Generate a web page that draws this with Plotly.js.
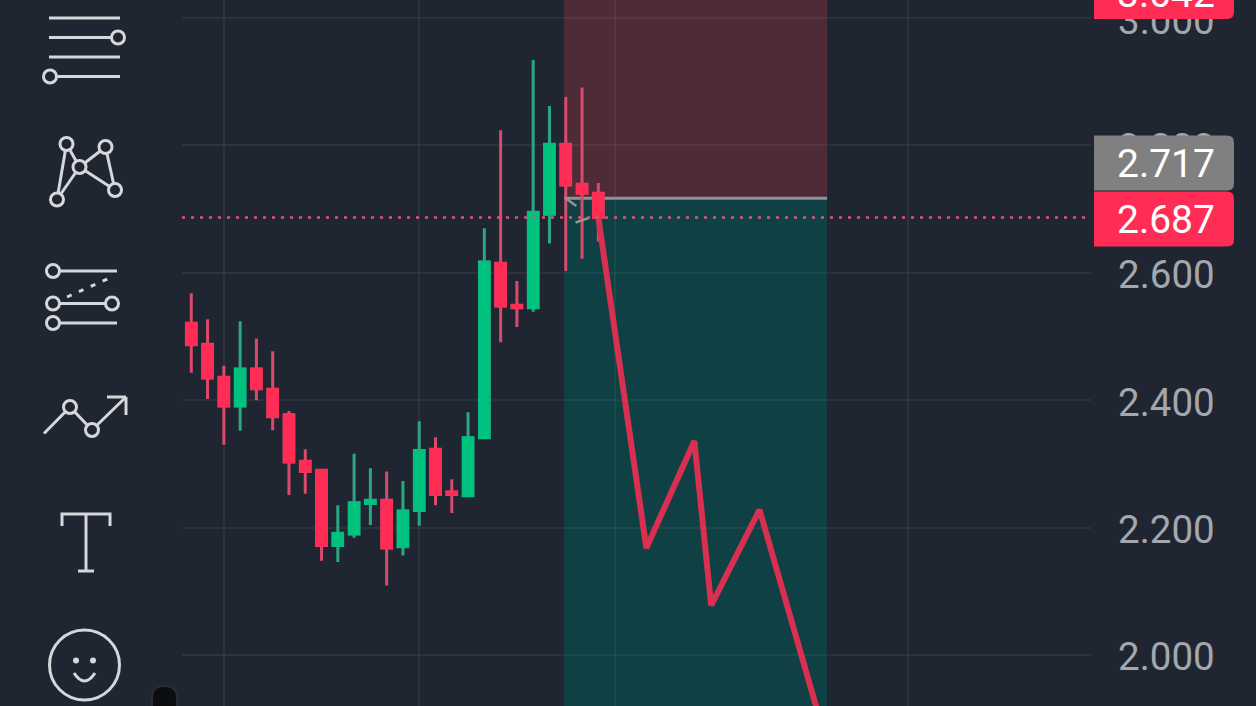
<!DOCTYPE html>
<html>
<head>
<meta charset="utf-8">
<script src="https://cdn.plot.ly/plotly-3.0.1.min.js"></script>
<style>html,body{margin:0;padding:0;background:#1f2632;overflow:hidden}</style>
</head>
<body>
<div id="chart" style="width:1256px;height:706px"></div>
<script>
// ---- chart data ----
const candleIndex = [0,1,2,3,4,5,6,7,8,9,10,11,12,13,14,15,16,17,18,19,20,21,22,23,24,25];
const opens  = [2.521,2.488,2.436,2.391,2.449,2.417,2.377,2.304,2.290,2.172,2.190,2.238,2.243,2.170,2.227,2.323,2.256,2.250,2.341,2.615,2.549,2.545,2.692,2.802,2.739,2.725];
const highs  = [2.568,2.527,2.454,2.524,2.497,2.477,2.383,2.323,2.292,2.235,2.316,2.293,2.288,2.273,2.367,2.342,2.276,2.381,2.670,2.824,2.587,2.934,2.862,2.876,2.891,2.741];
const lows   = [2.443,2.402,2.330,2.352,2.400,2.353,2.251,2.253,2.148,2.146,2.184,2.204,2.109,2.156,2.203,2.235,2.223,2.250,2.341,2.491,2.515,2.539,2.646,2.603,2.622,2.649];
const closes = [2.487,2.435,2.391,2.449,2.418,2.374,2.303,2.288,2.172,2.191,2.239,2.243,2.168,2.226,2.321,2.252,2.252,2.341,2.617,2.548,2.545,2.695,2.802,2.738,2.725,2.687];
const forecastIndex = [25,27.95,30.9,31.93,34.9,39];
const forecastValue = [2.687,2.168,2.336,2.078,2.228,1.864];
const entryArrowIndex = [22.95,23.65,null,23.6,24.4];
const entryArrowValue = [2.718,2.705,null,2.679,2.686];
const zoneStart = 22.9, zoneEnd = 39.05;
const entryPrice = 2.717, stopPrice = 3.042, lastPrice = 2.687;
const gridIndex = [2,14,26,44];
const tickValues = [2.0,2.2,2.4,2.6,2.8,3.0];
const tickLabels = ["2.000","2.200","2.400","2.600","2.800","3.000"];

// ---- palette / page geometry ----
const BG='#1f2632', GRID='rgba(255,255,255,0.055)', UP='#00c27f', DOWN='#ff2d55', UPW='#2ba883', DOWNW='#d94a6c';
const W=1256,H=706,L=182,R=1091;
const px=x=>(x-L)/(R-L), py=y=>1-y/H;
const INK='#d5d7da';
const pshape=o=>Object.assign({xref:'paper',yref:'paper',layer:'above'},o);
const seg=(a,b,c,d,w=3)=>pshape({type:'line',x0:px(a),y0:py(b),x1:px(c),y1:py(d),line:{color:INK,width:w}});
const dot=(x,y,r=6.5,w=3,fill=BG)=>pshape({type:'circle',x0:px(x-r),x1:px(x+r),y0:py(y-r),y1:py(y+r),fillcolor:fill,line:{color:INK,width:w}});
const pathP=(pts)=>pts.map((p,i)=>(i?'L':'M')+px(p[0])+','+py(p[1])).join(' ');

// rounded price badge in page pixels
function badge(yc,color){
  const a=1094,b=1234,t=yc-27.5,u=yc+27.5,r=7;
  const P=(x,y)=>px(x)+','+py(y);
  return pshape({type:'path',fillcolor:color,line:{width:0},
    path:`M${P(a,t)} L${P(b-r,t)} Q${P(b,t)} ${P(b,t+r)} L${P(b,u-r)} Q${P(b,u)} ${P(b-r,u)} L${P(a,u)} Z`});
}

const icons=[
  // levels
  seg(49,18,120,18),seg(49,37.5,118,37.5),seg(49,57,120,57),seg(50,76.5,120,76.5),dot(118,37.5),dot(50,76.5),
  // pattern
  seg(66.5,144,57,199.5),seg(66.5,144,79.5,167),seg(57,199.5,79.5,167),seg(79.5,167,105.5,147),seg(79.5,167,115,190),seg(105.5,147,115,190),
  dot(66.5,144),dot(105.5,147),dot(79.5,167),dot(115,190),dot(57,199.5),
  // fib
  seg(53,271,117,271),seg(53,303.5,112,303.5),seg(53,323,117,323),
  pshape({type:'line',x0:px(67),y0:py(297),x1:px(112),y1:py(277),line:{color:INK,width:3,dash:'5px 8px'}}),
  dot(53,271),dot(53,303.5),dot(112,303.5),dot(53,323),
  // trend arrow
  seg(44,433.5,70,407),seg(70,407,92,430),seg(92,430,126,397),seg(107,397,126,397),seg(126,397,126,415),dot(70,407),dot(92,430),
  // text
  pshape({type:'path',path:pathP([[62,526],[62,514],[110,514],[110,526]]),line:{color:INK,width:3}}),
  seg(86,514,86,571),seg(78,571,94,571),
  // emoji
  dot(84.5,665,35,3,'rgba(0,0,0,0)'),dot(76,660.5,3,0,INK),dot(93,660.5,3,0,INK),
  pshape({type:'path',path:`M${px(74)},${py(673)} Q${px(84.5)},${py(689)} ${px(95)},${py(673)}`,line:{color:INK,width:3}}),
  // black notch at the bottom edge
  pshape({type:'path',fillcolor:'#0c0d0f',line:{color:'#2a2d33',width:2},
    path:`M${px(152)},${py(710)} L${px(152)},${py(698)} Q${px(152)},${py(686)} ${px(164)},${py(686)} Q${px(177)},${py(686)} ${px(177)},${py(698)} L${px(177)},${py(710)} Z`})
];

const shapes=[
  {type:'rect',xref:'x',yref:'y',x0:zoneStart,x1:zoneEnd,y0:entryPrice,y1:3.03,fillcolor:'#4f2b37',line:{width:0},layer:'below'},
  {type:'rect',xref:'x',yref:'y',x0:zoneStart,x1:zoneEnd,y0:1.91,y1:entryPrice,fillcolor:'#0e4044',line:{width:0},layer:'below'},
  {type:'line',xref:'x',yref:'y',x0:zoneStart,x1:zoneEnd,y0:entryPrice,y1:entryPrice,line:{color:'#8d9396',width:3},layer:'between'},
  {type:'line',xref:'paper',yref:'y',x0:0,x1:1,y0:lastPrice,y1:lastPrice,line:{color:'#dc5570',width:2.5,dash:'3px 6px'},layer:'above'},
  badge(163,'#808080'),badge(219,DOWN),badge(-8.5,DOWN),
  ...icons
];

const badgeText=(t,y)=>({xref:'paper',yref:'paper',x:px(1166),y:py(y),text:t,showarrow:false,xanchor:'center',yanchor:'middle',
  font:{family:'Roboto',size:39,color:'#ffffff'}});

const cs=(hi,lo,inc,dec,w)=>({type:'candlestick',x:candleIndex,open:opens,close:closes,high:hi,low:lo,
  increasing:{line:{color:inc,width:w},fillcolor:UP},decreasing:{line:{color:dec,width:w},fillcolor:DOWN},
  whiskerwidth:0,hoverinfo:'skip',showlegend:false});

const bodyHigh=opens.map((o,i)=>Math.max(o,closes[i]));
const bodyLow=opens.map((o,i)=>Math.min(o,closes[i]));

const data=[
  cs(highs,lows,UPW,DOWNW,3),
  cs(bodyHigh,bodyLow,UP,DOWN,2.5),
  {type:'scatter',mode:'lines',x:entryArrowIndex,y:entryArrowValue,line:{color:'#8d9396',width:2.5},connectgaps:false,hoverinfo:'skip',showlegend:false},
  {type:'scatter',mode:'lines',x:forecastIndex,y:forecastValue,line:{color:'#d92f50',width:6},hoverinfo:'skip',showlegend:false}
];

const layout={
  width:W,height:H,paper_bgcolor:BG,plot_bgcolor:BG,showlegend:false,
  margin:{l:L,r:W-R,t:0,b:0,pad:0},
  boxgap:0.4,boxgroupgap:0,boxmode:'overlay',
  xaxis:{range:[-0.57,55.26],tickmode:'array',tickvals:gridIndex,showticklabels:false,ticks:'',showgrid:true,gridcolor:GRID,gridwidth:2,zeroline:false,showline:false,rangeslider:{visible:false},fixedrange:true},
  yaxis:{range:[1.9199,3.0283],side:'right',tickmode:'array',tickvals:tickValues,ticktext:tickLabels,ticks:'',ticklabelstandoff:26,ticklabelshift:2,ticklabeloverflow:'allow',
    tickfont:{family:'Roboto',size:38.5,color:'#a3a8af'},showgrid:true,gridcolor:GRID,gridwidth:2,zeroline:false,showline:false,fixedrange:true},
  shapes:shapes,
  annotations:[badgeText('2.717',164),badgeText('2.687',220),badgeText('3.042',-6)]
};
Plotly.newPlot('chart',data,layout,{displayModeBar:false,staticPlot:true,responsive:false});
</script>
</body>
</html>
